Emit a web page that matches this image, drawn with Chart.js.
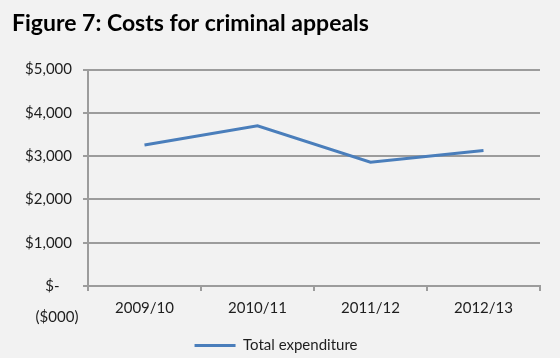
<!DOCTYPE html>
<html>
<head>
<meta charset="utf-8">
<style>
  html, body { margin: 0; padding: 0; background: #f2f2f2; }
  #wrap { width: 560px; height: 358px; }
</style>
<script src="https://cdn.jsdelivr.net/npm/chart.js@4/dist/chart.umd.min.js"></script>
</head>
<body>
<div id="wrap"><canvas id="chart" width="560" height="358"></canvas></div>
<script>
// Figure 7 data ($000)
const years = ['2009/10', '2010/11', '2011/12', '2012/13'];
const totalExpenditure = [3260, 3700, 2860, 3130];
const yTicks = [0, 1000, 2000, 3000, 4000, 5000];

const FONT = 'Lato, "Open Sans", sans-serif';
const TEXT = '#1e1e1e';
const GRID = '#9c9c9c';

// unit note under the y axis
const unitNote = {
    id: 'unitNote',
    afterDraw(chart) {
        const ctx = chart.ctx;
        ctx.save();
        ctx.font = '15px ' + FONT;
        ctx.fillStyle = TEXT;
        ctx.textAlign = 'center';
        ctx.textBaseline = 'middle';
        ctx.fillText('($000)', 57, 317);
        ctx.restore();
    }
};

function money(v) {
    if (v === 0) return '$-\u2007 ';
    return '$' + v.toLocaleString('en-US');
}

new Chart(document.getElementById('chart'), {
    type: 'line',
    data: {
        labels: years,
        datasets: [{
            label: 'Total expenditure',
            data: totalExpenditure,
            borderColor: '#4a7ebb',
            backgroundColor: '#4a7ebb',
            borderWidth: 3,
            pointRadius: 0,
            tension: 0
        }]
    },
    options: {
        responsive: false,
        animation: false,
        layout: { padding: { left: 12, right: 20, top: 0, bottom: -5 } },
        plugins: {
            title: {
                display: true,
                text: 'Figure 7: Costs for criminal appeals',
                align: 'start',
                color: '#000',
                font: { family: FONT, size: 23, weight: 'bold' },
                padding: { top: 10, bottom: 32 }
            },
            legend: {
                position: 'bottom',
                labels: {
                    usePointStyle: true,
                    pointStyle: 'line',
                    pointStyleWidth: 41,
                    color: TEXT,
                    font: { family: FONT, size: 15 },
                    padding: 1
                }
            },
            tooltip: { enabled: false }
        },
        scales: {
            x: {
                offset: true,
                grid: {
                    offset: true,
                    drawOnChartArea: false,
                    drawTicks: true,
                    tickLength: 5,
                    color: GRID,
                    lineWidth: 2
                },
                border: { display: true, color: GRID, width: 2 },
                ticks: { color: TEXT, font: { family: FONT, size: 15 }, padding: 8 },
                afterFit(scale) { scale.height = 51; }
            },
            y: {
                min: 0,
                max: 5000,
                afterBuildTicks(scale) { scale.ticks = yTicks.map(v => ({ value: v })); },
                grid: { color: GRID, lineWidth: 2, tickLength: 5 },
                border: { display: true, color: GRID, width: 2 },
                ticks: {
                    color: TEXT,
                    font: { family: FONT, size: 15 },
                    padding: 11,
                    callback: money
                },
                afterFit(scale) { scale.width = 76; }
            }
        }
    },
    plugins: [unitNote]
});
</script>
</body>
</html>
